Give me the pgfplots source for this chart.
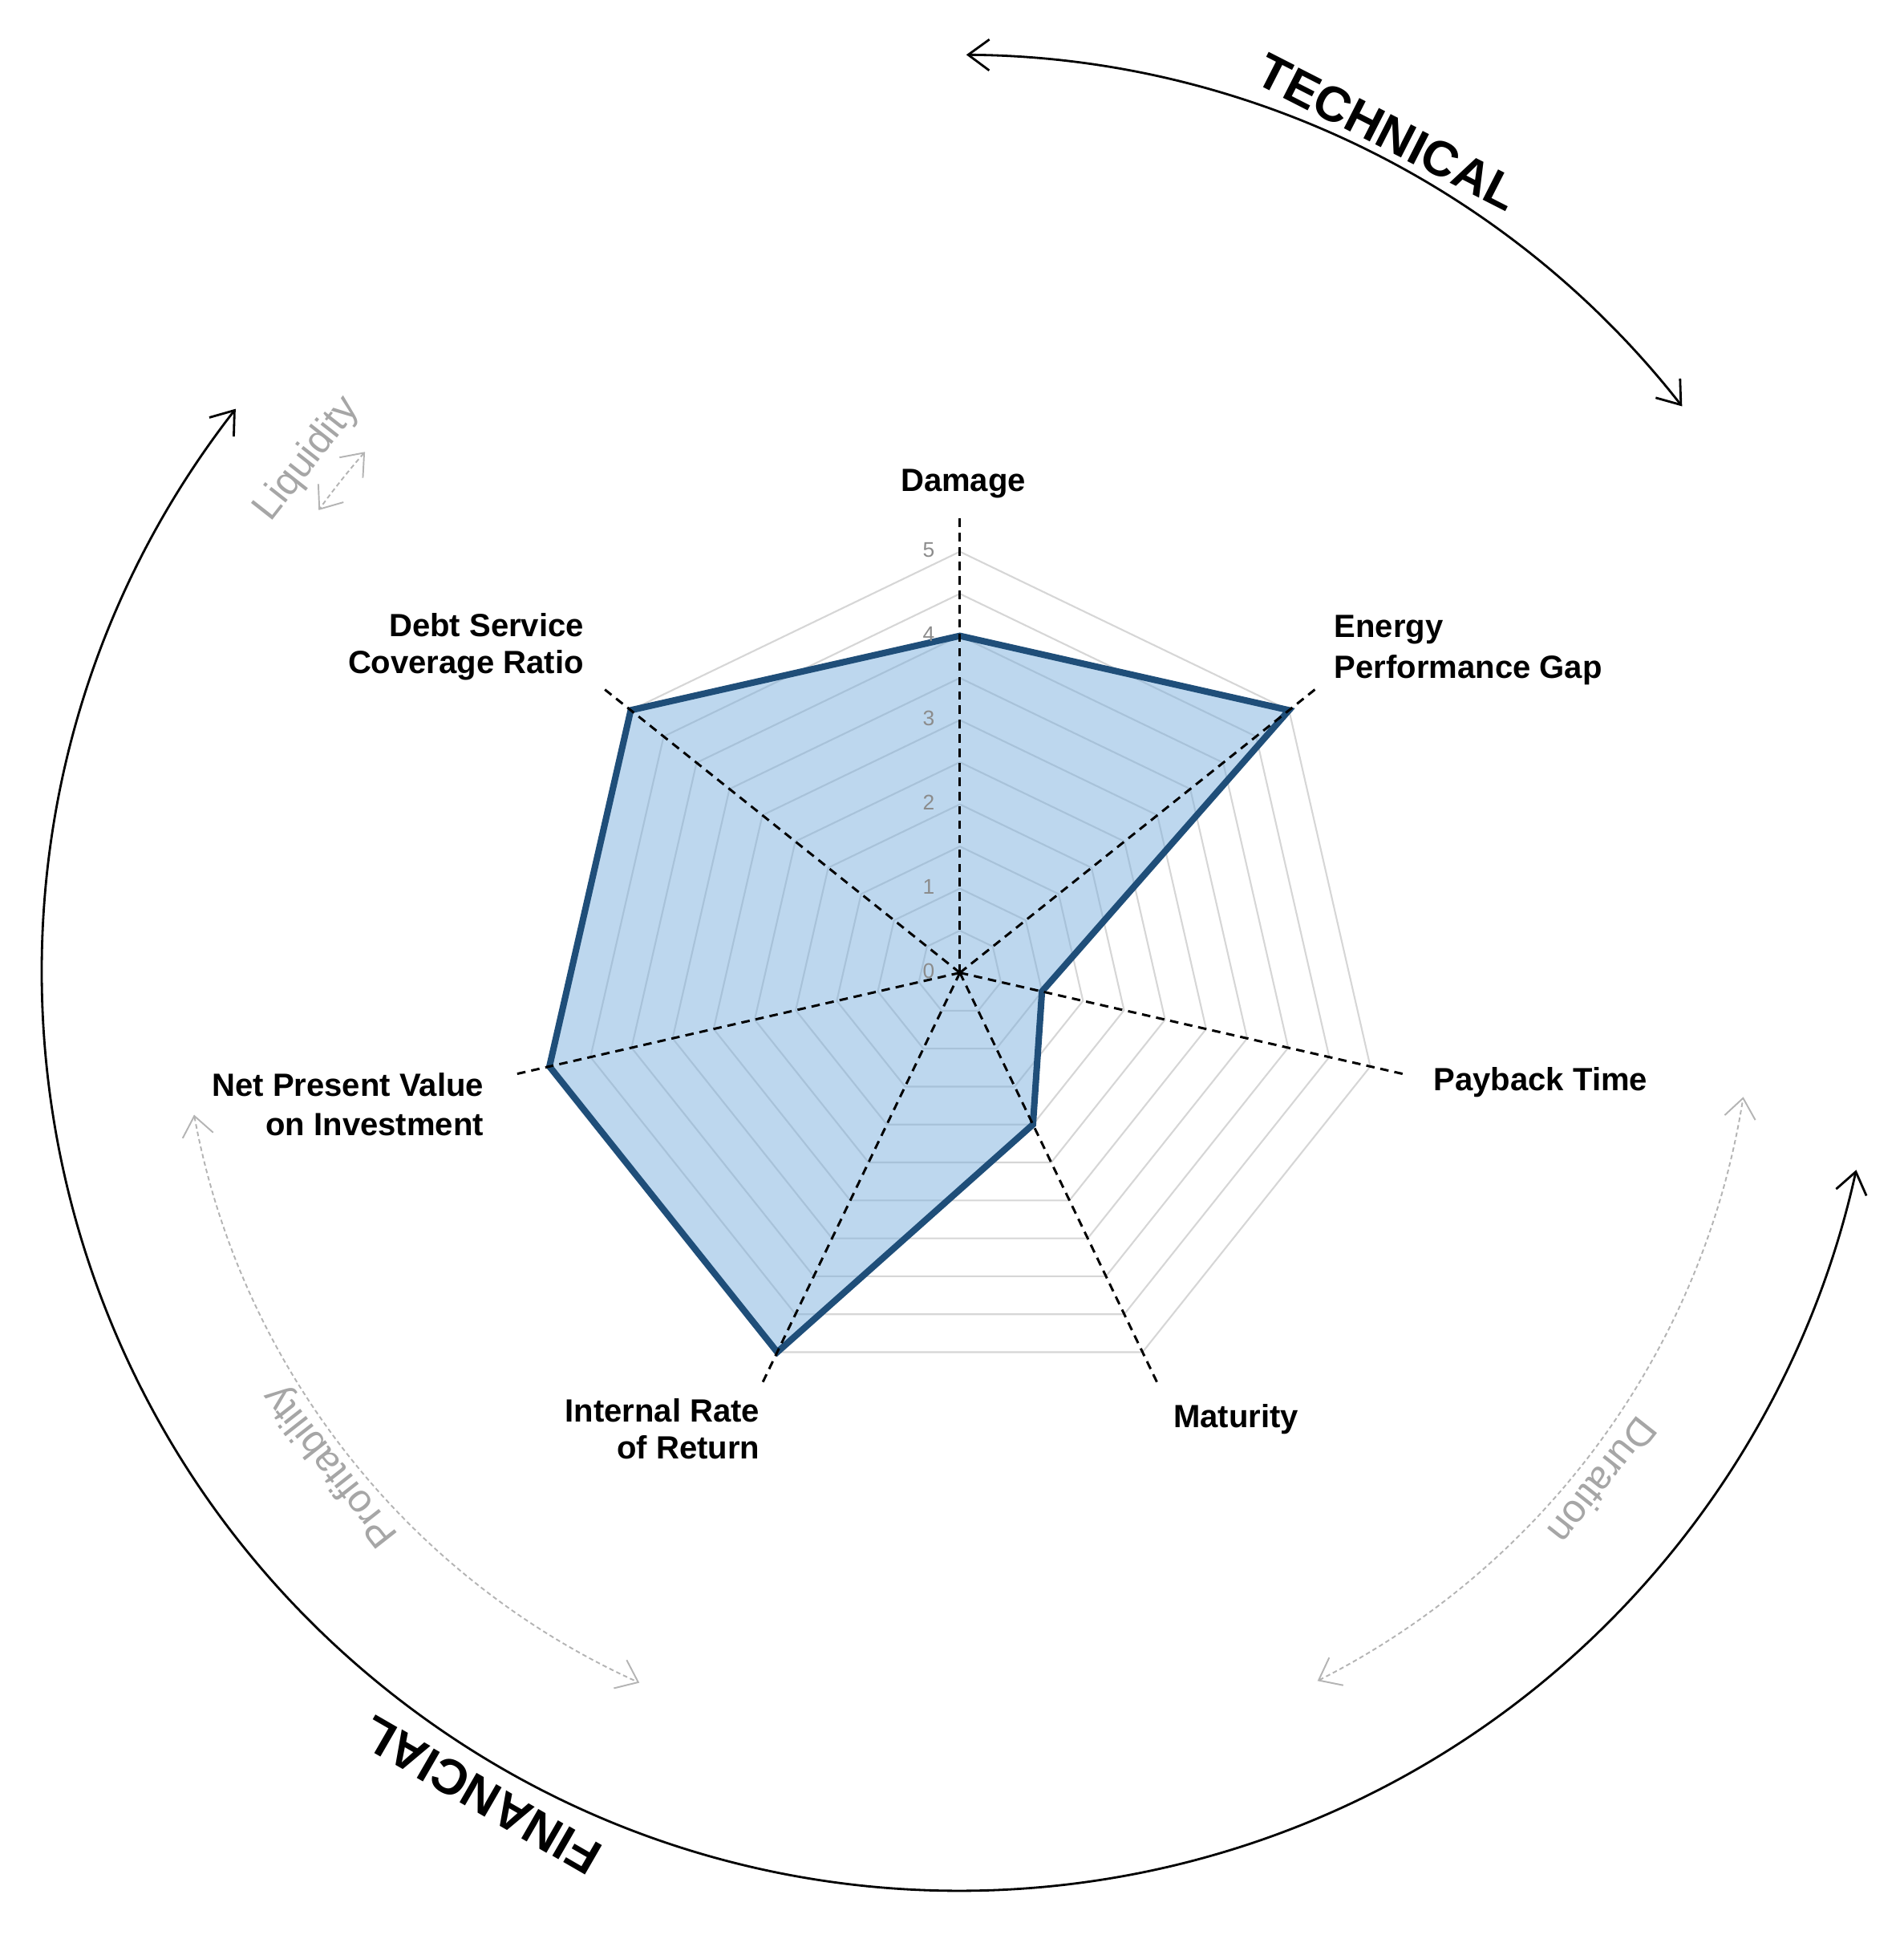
\documentclass[border=0pt]{standalone}
\usepackage{fontspec}
\setmainfont{Liberation Sans}
\usepackage{pgfplots}
\pgfplotsset{compat=1.18}
\usetikzlibrary{arrows.meta}
\definecolor{fillblue}{HTML}{7BAFDD}
\definecolor{lineblue}{HTML}{1F4E79}
\definecolor{gridgray}{HTML}{D6D6D6}
\definecolor{ticktxt}{HTML}{8C8C8C}
\definecolor{softgray}{HTML}{A6A6A6}
\definecolor{arcgray}{HTML}{B4B4B4}
\begin{document}
\begin{tikzpicture}[x=1.05cm,y=1.05cm,
  lab/.style={font=\fontsize{11.4}{13.7}\selectfont\bfseries, inner sep=0pt},
  big/.style={font=\fontsize{17.5}{20}\selectfont\bfseries, inner sep=0pt},
  soft/.style={text=softgray, font=\fontsize{14}{16}\selectfont, inner sep=0pt},
  blackarc/.style={line width=0.8pt, {Straight Barb[length=7.5pt,width=11pt]}-{Straight Barb[length=7.5pt,width=11pt]}},
  grayarc/.style={arcgray, line width=0.55pt, dash pattern=on 1.6pt off 1.1pt, {Straight Barb[length=7pt,width=11pt]}-{Straight Barb[length=7pt,width=11pt]}}]
% grid rings
\foreach \r in {0.5,1,...,5}{
  \draw[gridgray, line width=0.6pt, line join=round] (90:\r) \foreach \k in {1,...,6}{ -- ({90-\k*51.428571}:\r) } -- cycle;
}
\begin{axis}[
  x=1.05cm, y=1.05cm, anchor=origin, at={(0,0)},
  hide axis, clip=false,
  xmin=-11.40, xmax=11.21, ymin=-11.52, ymax=11.55,
]
\addplot[data cs=polar, draw=lineblue, line width=2.3pt, line join=miter, fill=fillblue, fill opacity=0.5]
 coordinates {(90,4) (38.571,5) (-12.857,1) (-64.286,2) (-115.714,5) (-167.143,5) (141.429,5)} -- cycle;
\end{axis}
% spokes
\foreach \k in {0,...,6}
  \draw[black, line width=0.85pt, dash pattern=on 3pt off 2.1pt] (0,0) -- ({90-\k*51.428571}:5.45);
% tick labels
\foreach \v in {0,...,5}
  \node[text=ticktxt, font=\fontsize{7.5}{9}\selectfont, inner sep=0pt] at (-0.37,\v+0.02) {\v};
% axis labels
\node[lab, anchor=base] at (0.04,5.72) {Damage};
\node[lab, anchor=base east] at (-4.46,3.99) {Debt Service};
\node[lab, anchor=base east] at (-4.46,3.55) {Coverage Ratio};
\node[lab, anchor=base west] at (4.44,3.98) {Energy};
\node[lab, anchor=base west] at (4.44,3.50) {Performance Gap};
\node[lab, anchor=base west] at (5.62,-1.40) {Payback Time};
\node[lab, anchor=base west] at (2.53,-5.40) {Maturity};
\node[lab, anchor=base east] at (-2.37,-5.33) {Internal Rate};
\node[lab, anchor=base east] at (-2.37,-5.77) {of Return};
\node[lab, anchor=base east] at (-5.65,-1.47) {Net Present Value};
\node[lab, anchor=base east] at (-5.65,-1.93) {on Investment};
% outer arcs
\draw[blackarc] (89.6:10.9) arc[start angle=89.6, end angle=38.1, radius=10.9];
\draw[blackarc] (142.1:10.9) arc[start angle=142.1, end angle=347.6, radius=10.9];
\node[big, rotate=-27, anchor=base] at (63:11.0) {TECHNICAL};
\node[big, rotate=150, anchor=base] at (-120.2:11.1) {FINANCIAL};
% inner gray arcs
\draw[grayarc] (190.5:9.25) arc[start angle=190.5, end angle=245.7, radius=9.25];
\draw[grayarc] (-63.2:9.42) arc[start angle=-63.2, end angle=-9, radius=9.42];
\draw[grayarc] (138.8:9.39) arc[start angle=138.8, end angle=144.2, radius=9.39];
\node[soft, rotate=51.8, anchor=base] at (141.8:9.74) {Liquidity};
\node[soft, rotate=128.1, anchor=base] at (-141.9:9.36) {Profitability};
\node[soft, rotate=-128.3, anchor=base] at (-38.3:9.57) {Duration};
\pgfresetboundingbox
\path[use as bounding box] (-11.40,-11.52) rectangle (11.21,11.55);
\end{tikzpicture}
\end{document}
